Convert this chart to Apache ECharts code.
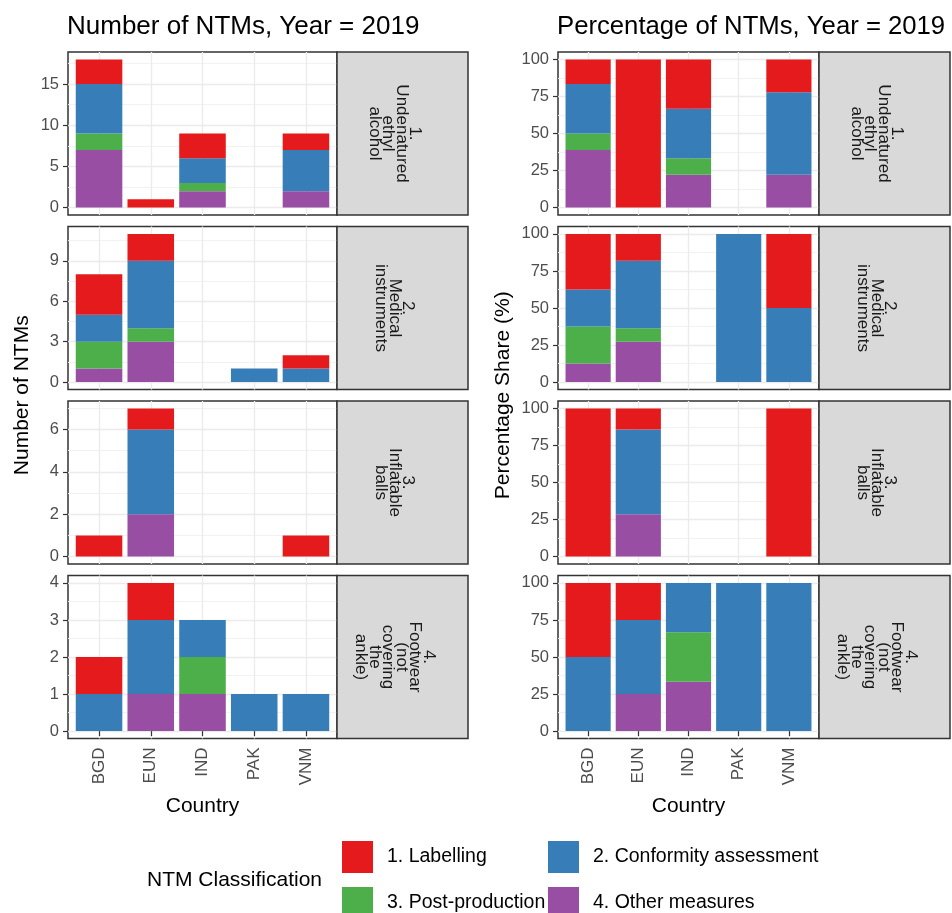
<!DOCTYPE html>
<html><head><meta charset="utf-8">
<script src="https://cdn.jsdelivr.net/npm/echarts@6/dist/echarts.min.js"></script>
<style>html,body{margin:0;padding:0;background:#fff}#c{width:952px;height:913px}</style>
</head><body><div id="c"></div>
<script>
// ---------------- DATA ----------------
const countries = ['BGD', 'EUN', 'IND', 'PAK', 'VNM'];
const products = [
  '1.\nUndenatured\nethyl\nalcohol',
  '2.\nMedical\ninstruments',
  '3.\nInflatable\nballs',
  '4.\nFootwear\n(not\ncovering\nthe\nankle)'
];
const classNames = ['1. Labelling', '2. Conformity assessment', '3. Post-production', '4. Other measures'];
// number of NTMs, [product][country]
const labelling      = [[3,1,3,0,2],[3,2,0,0,1],[1,1,0,0,1],[1,1,0,0,0]];
const conformity     = [[6,0,3,0,5],[2,5,0,1,1],[0,4,0,0,0],[1,2,1,1,1]];
const postProduction = [[2,0,1,0,0],[2,1,0,0,0],[0,0,0,0,0],[0,0,1,0,0]];
const otherMeasures  = [[7,0,2,0,2],[1,3,0,0,0],[0,2,0,0,0],[0,1,1,0,0]];
// axis ticks
const countTicks = [[0,5,10,15],[0,3,6,9],[0,2,4,6],[0,1,2,3,4]];
const countMinor = [[2.5,7.5,12.5,17.5],[1.5,4.5,7.5,10.5],[1,3,5,7],[0.5,1.5,2.5,3.5]];
const pctTicks = [0,25,50,75,100];
const pctMinor = [12.5,37.5,62.5,87.5];

// ---------------- STYLE / LAYOUT ----------------
const FONT = '"Liberation Sans", Arial, sans-serif';
const colors = {'1. Labelling':'#E41A1C','2. Conformity assessment':'#377EB8','3. Post-production':'#4DAF4A','4. Other measures':'#984EA3'};
const rowTop = 52, rowStep = 174.5, rowH = 163;
const cols = [{x:68, w:269, stripW:131}, {x:558, w:261, stripW:131}];
const xMin = 0.4, xMax = 5.6;

const chart = echarts.init(document.getElementById('c'), null, {renderer:'canvas'});

// stack order bottom -> top
const stackSeries = [
  {name:'4. Other measures', data: otherMeasures},
  {name:'3. Post-production', data: postProduction},
  {name:'2. Conformity assessment', data: conformity},
  {name:'1. Labelling', data: labelling}
];

const grids = [], xAxes = [], yAxes = [], series = [], graphics = [];
let g = 0;
for (let c = 0; c < 2; c++) {
  const col = cols[c];
  const unitPx = col.w / (xMax - xMin);
  for (let r = 0; r < 4; r++) {
    const top = rowTop + r * rowStep;
    const totals = countries.map((_, j) => stackSeries.reduce((s, ss) => s + ss.data[r][j], 0));
    let yLo, yHi, ticks, minor;
    if (c === 0) {
      const M = Math.max(...totals);
      yLo = -0.05 * M; yHi = M * 1.05; ticks = countTicks[r]; minor = countMinor[r];
    } else {
      yLo = -5; yHi = 105; ticks = pctTicks; minor = pctMinor;
    }
    grids.push({left: col.x, top: top, width: col.w, height: rowH, show: true,
      backgroundColor: '#fff', borderColor: '#333333', borderWidth: 1.5});
    const bottomRow = r === 3;
    xAxes.push({
      type: 'value', gridIndex: g, min: xMin, max: xMax,
      axisLine: {show: false},
      axisTick: {show: bottomRow, length: 5, customValues: [1,2,3,4,5], lineStyle: {color: '#333333', width: 1.2}},
      axisLabel: {show: bottomRow, customValues: [1,2,3,4,5], rotate: 90, margin: 9,
        formatter: v => countries[Math.round(v) - 1], fontSize: 17, color: '#4D4D4D', fontFamily: FONT},
      splitLine: {show: true, lineStyle: {color: '#EBEBEB', width: 1.3}},
      name: bottomRow ? 'Country' : '', nameLocation: 'middle', nameGap: 57,
      nameTextStyle: {fontSize: 21, color: '#000', fontFamily: FONT}
    });
    yAxes.push({
      type: 'value', gridIndex: g, min: yLo, max: yHi,
      axisLine: {show: false},
      axisTick: {show: true, length: 5, customValues: ticks, lineStyle: {color: '#333333', width: 1.2}},
      axisLabel: {show: true, customValues: ticks, margin: 9, fontSize: 16.5, color: '#4D4D4D', fontFamily: FONT},
      splitLine: {show: true, lineStyle: {color: '#EBEBEB', width: 1.3}}
    });
    yAxes.push({
      type: 'value', gridIndex: g, min: yLo, max: yHi,
      axisLine: {show: false},
      axisTick: {show: false, customValues: minor},
      axisLabel: {show: false, customValues: minor},
      splitLine: {show: true, lineStyle: {color: '#F1F1F1', width: 0.9}}
    });
    stackSeries.forEach(ss => {
      series.push({
        type: 'bar', name: ss.name, xAxisIndex: g, yAxisIndex: 2 * g, stack: 'st' + g,
        barWidth: 0.9 * unitPx, silent: true, animation: false,
        itemStyle: {color: colors[ss.name]},
        encode: {x: 1, y: 0},
        data: countries.map((_, j) => {
          const v = ss.data[r][j];
          const val = c === 0 ? v : (totals[j] ? v / totals[j] * 100 : 0);
          return [val, j + 1];
        })
      });
    });
    // strip
    graphics.push({type: 'rect', z: 10,
      shape: {x: col.x + col.w, y: top, width: col.stripW, height: rowH},
      style: {fill: '#D9D9D9', stroke: '#333333', lineWidth: 1.5}});
    graphics.push({type: 'text', z: 11, x: col.x + col.w + col.stripW / 2 - 8, y: top + rowH / 2,
      rotation: -Math.PI / 2,
      style: {text: products[r], fontSize: 17, lineHeight: 13.5, fontFamily: FONT, fill: '#1A1A1A',
        align: 'center', verticalAlign: 'middle'}});
    g++;
  }
}

const panelMid = rowTop + (3 * rowStep + rowH) / 2;
graphics.push({type: 'text', x: 22, y: panelMid, rotation: Math.PI / 2,
  style: {text: 'Number of NTMs', fontSize: 21, fontFamily: FONT, fill: '#000', align: 'center', verticalAlign: 'middle'}});
graphics.push({type: 'text', x: 503, y: panelMid, rotation: Math.PI / 2,
  style: {text: 'Percentage Share (%)', fontSize: 21, fontFamily: FONT, fill: '#000', align: 'center', verticalAlign: 'middle'}});

// legend: 2 x 2 key layout
const legendPos = {
  '1. Labelling': [342, 841], '2. Conformity assessment': [548, 841],
  '3. Post-production': [342, 887], '4. Other measures': [548, 887]
};
const legends = classNames.map(n => ({
  left: legendPos[n][0], top: legendPos[n][1], data: [n],
  orient: 'vertical', itemWidth: 31, itemHeight: 32, icon: 'rect', selectedMode: false, padding: 0,
  textStyle: {fontSize: 19.5, color: '#000', fontFamily: FONT, padding: [0,0,0,9]}
}));

chart.setOption({
  animation: false,
  textStyle: {fontFamily: FONT},
  title: [
    {text: 'Number of NTMs, Year = 2019', left: 67, top: 14, padding: 0,
      textStyle: {fontSize: 26, fontWeight: 'normal', color: '#000', fontFamily: FONT}},
    {text: 'Percentage of NTMs, Year = 2019', left: 557, top: 14, padding: 0,
      textStyle: {fontSize: 25.7, fontWeight: 'normal', color: '#000', fontFamily: FONT}},
    {text: 'NTM Classification', left: 147, top: 870, padding: 0,
      textStyle: {fontSize: 21, fontWeight: 'normal', color: '#000', fontFamily: FONT}}
  ],
  legend: legends,
  grid: grids, xAxis: xAxes, yAxis: yAxes, series: series, graphic: graphics
});
</script></body></html>
